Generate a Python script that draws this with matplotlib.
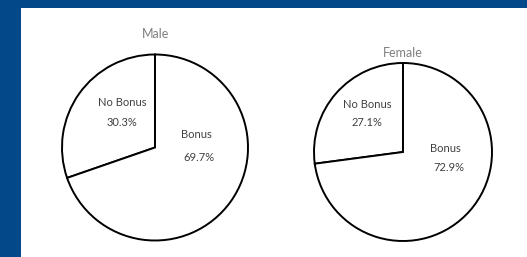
import matplotlib
matplotlib.use("Agg")
import matplotlib.pyplot as plt
from matplotlib.patches import Rectangle

# data
groups = ["Male", "Female"]
categories = ["No Bonus", "Bonus"]
male_pct = [30.3, 69.7]
female_pct = [27.1, 72.9]

W, H = 527, 257
BLUE = "#03498a"

fig = plt.figure(figsize=(W / 100, H / 100), dpi=100, facecolor=BLUE)
ax = fig.add_axes([0, 0, 1, 1])

# white slide panel
ax.add_patch(Rectangle((21, 8), W - 21, H - 8, facecolor="white", edgecolor="none", zorder=0))

# pixel layout of each pie: centre, radius, title pos, (name, pct) offsets per slice
layout = {
    "Male": dict(center=(155, 147.5), r=93, title=(156, 34),
                 offs=[((-33, -45), (-33, -24.5)), ((41, -12.5), (44, 10))]),
    "Female": dict(center=(403, 152), r=89, title=(403, 53),
                   offs=[((-36, -48), (-36, -29.5)), ((42, -4), (46, 15.5))]),
}
font = ["Lato", "DejaVu Sans"]

for name, vals in zip(groups, [male_pct, female_pct]):
    lay = layout[name]
    cx, cy = lay["center"]
    # y axis is inverted, so counterclock=False draws counterclockwise on screen
    ax.pie(vals, center=(cx, cy), radius=lay["r"], startangle=-90,
           counterclock=False, colors=["white", "white"],
           wedgeprops=dict(edgecolor="black", linewidth=1.4), frame=True)
    ax.text(*lay["title"], name, ha="center", va="center", fontsize=9,
            color="#7f7f7f", family=font)
    for cat, v, ((nx, ny), (px, py)) in zip(categories, vals, lay["offs"]):
        ax.text(cx + nx, cy + ny, cat, ha="center", va="center",
                fontsize=8, color="#404040", family=font)
        ax.text(cx + px, cy + py, f"{v:.1f}%", ha="center", va="center",
                fontsize=8, color="#404040", family=font)

ax.set_xlim(0, W)
ax.set_ylim(H, 0)
ax.set_aspect("equal")
ax.axis("off")
fig.savefig("out.png", dpi=100, facecolor=BLUE)
